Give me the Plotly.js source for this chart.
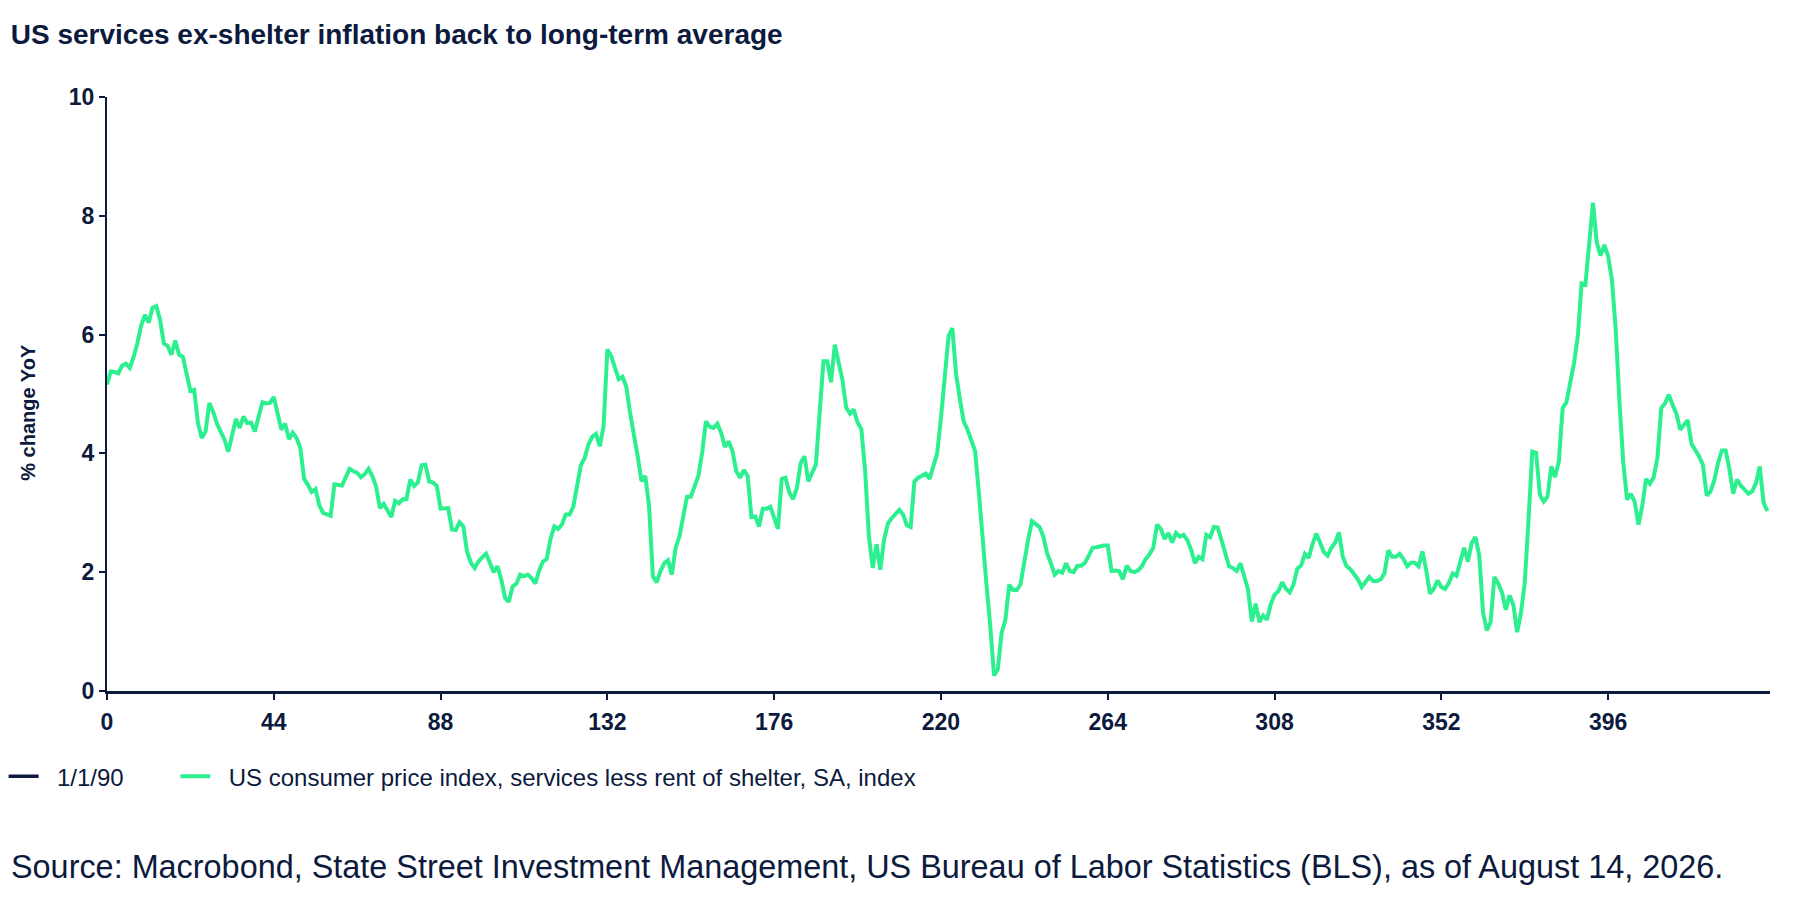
<!DOCTYPE html>
<html>
<head>
<meta charset="utf-8">
<script src="https://cdn.plot.ly/plotly-3.0.1.min.js"></script>
<style>
  html, body { margin: 0; padding: 0; background: #fff; }
  #chart { width: 1800px; height: 900px; }
</style>
</head>
<body>
<div id="chart"></div>
<script>
const NAVY = "#0c1a3d";
const GREEN = "#2cf08f";
const FONT = "Liberation Sans, Arial, sans-serif";

const chartTitle = "US services ex-shelter inflation back to long-term average";
const yTitle = "% change YoY";
const startLabel = "1/1/90";
const seriesName = "US consumer price index, services less rent of shelter, SA, index";
const sourceText =
  "Source: Macrobond, State Street Investment Management, US Bureau of Labor Statistics (BLS), as of August 14, 2026.";

const xTicks = [0, 44, 88, 132, 176, 220, 264, 308, 352, 396];
const yTicks = [0, 2, 4, 6, 8, 10];

// % change YoY, monthly
const servicesExShelter = [
  5.16, 5.38, 5.37, 5.35, 5.48, 5.51, 5.44, 5.62, 5.85, 6.15,
  6.33, 6.2, 6.45, 6.48, 6.25, 5.85, 5.81, 5.66, 5.9, 5.66,
  5.63, 5.33, 5.05, 5.07, 4.51, 4.26, 4.37, 4.85, 4.7, 4.5,
  4.37, 4.23, 4.03, 4.29, 4.58, 4.43, 4.62, 4.51, 4.52, 4.37,
  4.65, 4.86, 4.84, 4.85, 4.95, 4.68, 4.4, 4.5, 4.24, 4.35,
  4.26, 4.09, 3.57, 3.47, 3.35, 3.4, 3.13, 3.0, 2.97, 2.95,
  3.48, 3.47, 3.46, 3.6, 3.74, 3.7, 3.67, 3.6, 3.65, 3.74,
  3.62, 3.44, 3.08, 3.15, 3.03, 2.93, 3.2, 3.16, 3.23, 3.23,
  3.56, 3.45, 3.51, 3.8, 3.81, 3.53, 3.51, 3.45, 3.07, 3.08,
  3.08, 2.72, 2.71, 2.84, 2.77, 2.34, 2.16, 2.07, 2.18, 2.25,
  2.31, 2.16, 2.0, 2.1, 1.88, 1.57, 1.5, 1.76, 1.81, 1.96,
  1.93, 1.96, 1.9, 1.81, 2.03, 2.18, 2.22, 2.56, 2.77, 2.73,
  2.8, 2.97, 2.97, 3.1, 3.5, 3.8, 3.92, 4.15, 4.28, 4.33,
  4.12, 4.46, 5.75, 5.64, 5.44, 5.25, 5.29, 5.12, 4.68, 4.35,
  3.95, 3.53, 3.62, 3.11, 1.93, 1.83, 2.02, 2.15, 2.2, 1.96,
  2.41, 2.6, 2.9, 3.27, 3.27, 3.46, 3.62, 4.01, 4.54, 4.45,
  4.43, 4.5, 4.35, 4.11, 4.2, 4.04, 3.7, 3.59, 3.72, 3.62,
  2.93, 2.94, 2.77, 3.07, 3.07, 3.1, 2.91, 2.73, 3.57, 3.59,
  3.34, 3.23, 3.42, 3.84, 3.95, 3.53, 3.67, 3.81, 4.68, 5.55,
  5.55, 5.2, 5.83, 5.53, 5.24, 4.77, 4.67, 4.74, 4.52, 4.41,
  3.7, 2.6, 2.07, 2.47, 2.04, 2.55, 2.82, 2.91, 2.99, 3.05,
  2.97, 2.79, 2.76, 3.53, 3.59, 3.63, 3.66, 3.57, 3.76, 4.0,
  4.6, 5.3, 5.97, 6.11, 5.33, 4.91, 4.54, 4.4, 4.2, 4.04,
  3.34, 2.5, 1.8, 1.1, 0.26, 0.37, 0.98, 1.2, 1.79, 1.7,
  1.7, 1.8, 2.2, 2.55, 2.86, 2.8, 2.76, 2.6, 2.32, 2.15,
  1.96, 2.02, 1.99, 2.15, 2.02, 2.0, 2.11, 2.11, 2.16, 2.28,
  2.41, 2.42, 2.44, 2.45, 2.45, 2.02, 2.03, 2.02, 1.88, 2.11,
  2.02, 2.0, 2.03, 2.1, 2.22, 2.3, 2.41, 2.8, 2.73, 2.56,
  2.66, 2.5, 2.66, 2.6, 2.63, 2.54, 2.38, 2.15, 2.26, 2.22,
  2.63, 2.59, 2.76, 2.75, 2.54, 2.3, 2.1, 2.07, 2.02, 2.15,
  1.93, 1.71, 1.17, 1.47, 1.16, 1.27, 1.2, 1.46, 1.62, 1.68,
  1.83, 1.72, 1.66, 1.79, 2.06, 2.11, 2.31, 2.24, 2.47, 2.65,
  2.5, 2.34, 2.28, 2.41, 2.5, 2.67, 2.26, 2.1, 2.05, 1.97,
  1.88, 1.75, 1.83, 1.92, 1.85, 1.85, 1.88, 1.98, 2.37, 2.26,
  2.26, 2.31, 2.22, 2.1, 2.16, 2.16, 2.1, 2.35, 2.04, 1.64,
  1.72, 1.86, 1.75, 1.72, 1.82, 1.98, 1.94, 2.21, 2.41, 2.18,
  2.49, 2.59, 2.28, 1.32, 1.02, 1.16, 1.92, 1.81, 1.66, 1.37,
  1.61, 1.45, 0.99, 1.31, 1.82, 2.88, 4.03, 4.01, 3.3, 3.19,
  3.27, 3.78, 3.6, 3.87, 4.76, 4.86, 5.19, 5.52, 5.97, 6.86,
  6.84, 7.54, 8.22, 7.55, 7.33, 7.51, 7.32, 6.92, 6.08, 4.85,
  3.84, 3.22, 3.32, 3.19, 2.8, 3.11, 3.57, 3.49, 3.6, 3.92,
  4.76, 4.84, 4.99, 4.82, 4.67, 4.4, 4.48, 4.56, 4.16, 4.06,
  3.95, 3.81, 3.29, 3.36, 3.55, 3.84, 4.05, 4.05, 3.73, 3.32,
  3.56, 3.46, 3.4, 3.32, 3.36, 3.5, 3.78, 3.17, 3.03,
];

const monthIndex = servicesExShelter.map((_, i) => i);

// legend spacing: a gap after the swatch, and a wide gap after the first entry
const NBSP = "\u00a0";
const lead = NBSP.repeat(2);
const trail = NBSP.repeat(7);

// placeholder trace so the start date shows up in the legend
const tStart = {
  x: [null],
  y: [null],
  name: lead + startLabel + trail,
  mode: "lines",
  line: { color: NAVY, width: 3.5 },
  hoverinfo: "skip",
};

const tSeries = {
  x: monthIndex,
  y: servicesExShelter,
  name: lead + seriesName,
  mode: "lines",
  line: { color: GREEN, width: 4 },
  hovertemplate: "%{x}: %{y:.2f}%<extra></extra>",
};

const axisFont = { family: FONT, size: 23, color: NAVY, weight: "bold" };

const layout = {
  width: 1800,
  height: 900,
  paper_bgcolor: "#fff",
  plot_bgcolor: "#fff",
  margin: { l: 107, r: 30, t: 97, b: 209 },
  title: {
    text: chartTitle,
    font: { family: FONT, size: 28, color: NAVY, weight: "bold" },
    xref: "container",
    yref: "container",
    x: 0.006,
    xanchor: "left",
    y: 0.962,
    yanchor: "middle",
  },
  xaxis: {
    range: [0, 438.7],
    tickvals: xTicks,
    ticktext: xTicks.map(String),
    tickfont: axisFont,
    ticks: "outside",
    ticklen: 6,
    tickwidth: 2,
    tickcolor: NAVY,
    ticklabelstandoff: 2,
    showline: true,
    linecolor: NAVY,
    linewidth: 3,
    showgrid: false,
    zeroline: false,
  },
  yaxis: {
    range: [0, 10],
    tickvals: yTicks,
    tickfont: axisFont,
    ticks: "outside",
    ticklen: 6,
    tickwidth: 2,
    tickcolor: NAVY,
    showline: true,
    linecolor: NAVY,
    linewidth: 2,
    showgrid: false,
    zeroline: false,
  },
  showlegend: true,
  legend: {
    orientation: "h",
    xref: "container",
    yref: "container",
    x: 0.002,
    xanchor: "left",
    y: 0.162,
    yanchor: "top",
    font: { family: FONT, size: 24, color: NAVY },
    bgcolor: "rgba(0,0,0,0)",
    itemwidth: 30,
    traceorder: "normal",
  },
  annotations: [
    {
      // y-axis title, sits a little below the plot's middle as in the original
      text: yTitle,
      xref: "paper",
      yref: "paper",
      x: -0.0475,
      y: 0.4685,
      xanchor: "center",
      yanchor: "middle",
      textangle: -90,
      showarrow: false,
      font: { family: FONT, size: 20, color: NAVY, weight: "bold" },
    },
    {
      text: sourceText,
      xref: "paper",
      yref: "paper",
      x: -0.059,
      y: -0.296,
      xanchor: "left",
      yanchor: "middle",
      showarrow: false,
      font: { family: FONT, size: 32.4, color: NAVY },
    },
  ],
};

Plotly.newPlot("chart", [tStart, tSeries], layout, { displayModeBar: false, staticPlot: true });
</script>
</body>
</html>
